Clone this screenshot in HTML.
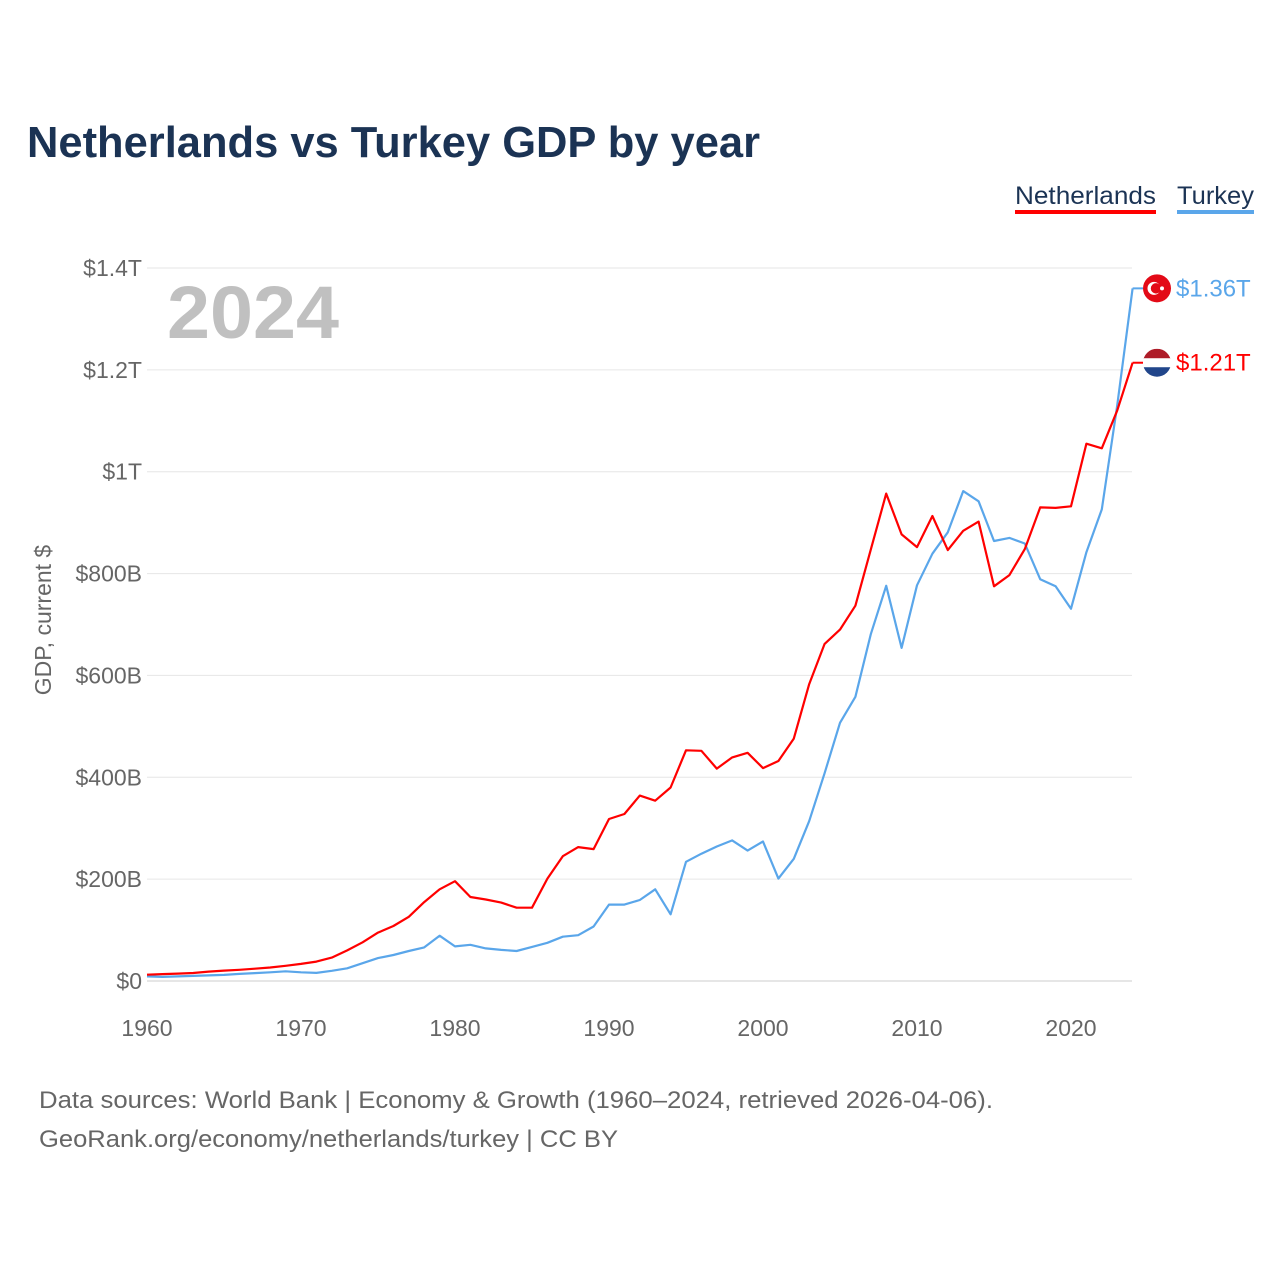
<!DOCTYPE html>
<html><head><meta charset="utf-8">
<style>
html,body{margin:0;padding:0;background:#fff;}
body{width:1280px;height:1280px;overflow:hidden;font-family:"Liberation Sans",sans-serif;}
</style></head>
<body>
<svg id="chart" width="1280" height="1280" xmlns="http://www.w3.org/2000/svg" font-family="Liberation Sans, sans-serif">
<text x="27" y="157" font-size="44" font-weight="bold" fill="#1b3354" textLength="733" lengthAdjust="spacingAndGlyphs">Netherlands vs Turkey GDP by year</text>
<g>
<text x="1015" y="204" font-size="25" fill="#1b3354" textLength="141" lengthAdjust="spacingAndGlyphs">Netherlands</text>
<rect x="1015" y="210" width="141" height="4" fill="#ff0000"/>
<text x="1177" y="204" font-size="25" fill="#1b3354" textLength="77" lengthAdjust="spacingAndGlyphs">Turkey</text>
<rect x="1177" y="210" width="77" height="4" fill="#5aa6ea"/>
</g>
<text x="167" y="338" font-size="74" font-weight="bold" fill="#c0c0c0" textLength="172" lengthAdjust="spacingAndGlyphs">2024</text>
<text transform="translate(51,620) rotate(-90)" text-anchor="middle" font-size="23" fill="#666">GDP, current $</text>
<g id="grid"></g><g id="yticks"></g><g id="xticks"></g><g id="lines"></g><g id="ends"></g>
<text x="39" y="1108" font-size="24" fill="#666" textLength="954" lengthAdjust="spacingAndGlyphs">Data sources: World Bank | Economy &amp; Growth (1960–2024, retrieved 2026-04-06).</text>
<text x="39" y="1147" font-size="24" fill="#666" textLength="579" lengthAdjust="spacingAndGlyphs">GeoRank.org/economy/netherlands/turkey | CC BY</text>
</svg>
<script>
const years=[];for(let y=1960;y<=2024;y++)years.push(y);
const netherlands=[12.3,13.6,14.6,15.8,18.4,20.4,22.0,24.2,26.5,29.8,33.6,38.0,46.0,60.1,76,95,108,126,155,180,196,165,160,154,144,144,201,245,263,259,318,328,364,354,380,453,452,417,439,448,418,432,476,583,662,690,737,847,957,877,852,913,846,884,902,775,797,848,930,929,932,1055,1046,1120,1214];
const turkey=[9,8,9,10,11,12,14,15.5,17,19,17,16,20,25,35,45,51,59,66,89,68,71,64,61,59,67,75,87,90,107,150,150,159,180,131,234,250,264,276,256,274,201,240,314,408,507,558,681,776,654,777,839,881,962,942,864,870,859,789,775,731,842,926,1130,1360];
const yTickVals=[0,200,400,600,800,1000,1200,1400];
const yTickLabels=["$0","$200B","$400B","$600B","$800B","$1T","$1.2T","$1.4T"];
const xTickVals=[1960,1970,1980,1990,2000,2010,2020];
const NS="http://www.w3.org/2000/svg";
const X=v=>147+(v-1960)*15.4;
const Y=v=>981-v*(713/1400);
function mk(t,a,p){const e=document.createElementNS(NS,t);for(const k in a)e.setAttribute(k,a[k]);p.appendChild(e);return e;}
const grid=document.getElementById('grid'),yt=document.getElementById('yticks'),xt=document.getElementById('xticks'),lines=document.getElementById('lines'),ends=document.getElementById('ends');
yTickVals.forEach((v,i)=>{
 const l=mk('line',{x1:147,x2:1132,y1:Y(v),y2:Y(v),stroke:v===0?'#ccc':'#e6e6e6','stroke-width':1},grid);
 
 
 const t=mk('text',{x:142,y:Y(v)+8,'text-anchor':'end','font-size':23,fill:'#666'},yt);
 t.textContent=yTickLabels[i];
 
 
});
xTickVals.forEach(v=>{
 const t=mk('text',{x:X(v),y:1036,'text-anchor':'middle','font-size':23,fill:'#666'},xt);
 t.textContent=v;
 
 
});
function line(data,color,name){
 const d=data.map((v,i)=>(i?'L':'M')+X(years[i]).toFixed(1)+','+Y(v).toFixed(1)).join('');
 const p=mk('path',{d:d,fill:'none',stroke:color,'stroke-width':2.2,'stroke-linejoin':'round'},lines);
 
 
}
line(turkey,'#5aa6ea','turkey-line');
line(netherlands,'#ff0000','netherlands-line');
function endLabel(v,color,label,name,flag){
 const y=Y(v);
 const ln=mk('line',{x1:X(2024),x2:1143,y1:y,y2:y,stroke:color,'stroke-width':2},ends);
 
 
 const g=mk('g',{},ends);
 
 
 if(flag==='tr'){
  mk('circle',{cx:1157,cy:y,r:14,fill:'#e30a17'},g);
  mk('circle',{cx:1154,cy:y,r:6.5,fill:'#fff'},g);
  mk('circle',{cx:1156,cy:y,r:5.2,fill:'#e30a17'},g);
  mk('circle',{cx:1162,cy:y,r:2,fill:'#fff'},g);
 }else{
  const cid='clipnl';
  const cp=mk('clipPath',{id:cid},g);mk('circle',{cx:1157,cy:y,r:14},cp);
  mk('rect',{x:1143,y:y-14,width:28,height:10,fill:'#ae1c28','clip-path':'url(#'+cid+')'},g);
  mk('rect',{x:1143,y:y-4.5,width:28,height:9,fill:'#fff','clip-path':'url(#'+cid+')'},g);
  mk('rect',{x:1143,y:y+4.5,width:28,height:10,fill:'#21468b','clip-path':'url(#'+cid+')'},g);
 }
 const t=mk('text',{x:1176,y:y+8,'font-size':24,fill:color},ends);
 t.textContent=label;
 
 
}
endLabel(turkey[turkey.length-1],'#5aa6ea','$'+(turkey[turkey.length-1]/1000).toFixed(2)+'T','turkey','tr');
endLabel(netherlands[netherlands.length-1],'#ff0000','$'+(netherlands[netherlands.length-1]/1000).toFixed(2)+'T','netherlands','nl');
</script>
</body></html>
